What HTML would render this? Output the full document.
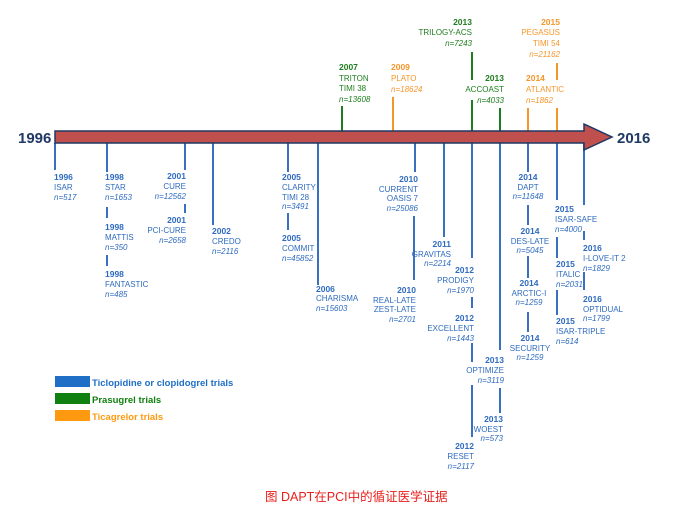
<!DOCTYPE html>
<html><head><meta charset="utf-8"><style>
html,body{margin:0;padding:0;background:#fff;width:673px;height:511px;overflow:hidden}
svg{display:block}
text{font-family:"Liberation Sans",sans-serif;font-size:8px}
.b{fill:#2e6bbf}.g{fill:#1e7d1e}.o{fill:#f5962a}
.y{font-weight:bold;font-size:8.5px}
.n{font-style:italic}
.lb{stroke:#3a70c0;stroke-width:2}.lg{stroke:#1e7d1e;stroke-width:2}.lo{stroke:#f5962a;stroke-width:2}
</style></head><body>
<svg width="673" height="511" viewBox="0 0 673 511" xmlns="http://www.w3.org/2000/svg">
<!-- blue lines -->
<g class="lb">
<line x1="55" y1="143" x2="55" y2="170"/>
<line x1="107" y1="143" x2="107" y2="172"/><line x1="107" y1="207" x2="107" y2="218"/><line x1="107" y1="255" x2="107" y2="266"/>
<line x1="185" y1="143" x2="185" y2="170"/><line x1="185" y1="204" x2="185" y2="213"/>
<line x1="213" y1="143" x2="213" y2="225"/>
<line x1="288" y1="143" x2="288" y2="172"/><line x1="288" y1="213" x2="288" y2="230"/>
<line x1="318" y1="143" x2="318" y2="285"/>
<line x1="415" y1="143" x2="415" y2="172"/><line x1="414" y1="216" x2="414" y2="280"/>
<line x1="444" y1="143" x2="444" y2="237"/>
<line x1="472" y1="143" x2="472" y2="258"/><line x1="472" y1="297" x2="472" y2="308"/><line x1="472" y1="343" x2="472" y2="362"/><line x1="472" y1="385" x2="472" y2="437"/>
<line x1="500" y1="143" x2="500" y2="350"/><line x1="500" y1="388" x2="500" y2="413"/>
<line x1="528" y1="143" x2="528" y2="172"/><line x1="528" y1="205" x2="528" y2="225"/><line x1="528" y1="256" x2="528" y2="278"/><line x1="528" y1="312" x2="528" y2="332"/>
<line x1="557" y1="143" x2="557" y2="200"/><line x1="557" y1="237" x2="557" y2="258"/><line x1="557" y1="290" x2="557" y2="315"/>
<line x1="584" y1="143" x2="584" y2="205"/><line x1="584" y1="231" x2="584" y2="240"/><line x1="584" y1="272" x2="584" y2="290"/>
</g>
<g class="lg">
<line x1="342" y1="106" x2="342" y2="131"/>
<line x1="472" y1="52" x2="472" y2="80"/><line x1="472" y1="100" x2="472" y2="131"/>
<line x1="500" y1="108" x2="500" y2="131"/>
</g>
<g class="lo">
<line x1="393" y1="97" x2="393" y2="131"/>
<line x1="528" y1="108" x2="528" y2="131"/>
<line x1="557" y1="63" x2="557" y2="80"/><line x1="557" y1="108" x2="557" y2="131"/>
</g>
<!-- arrow -->
<polygon points="55,131 584,131 584,124 612,137 584,150 584,143 55,143" fill="#c0504d" stroke="#1f3864" stroke-width="1.5"/>
<text x="18" y="143" style="font-size:15px;font-weight:bold;fill:#1f3864">1996</text>
<text x="617" y="143" style="font-size:15px;font-weight:bold;fill:#1f3864">2016</text>

<!-- blue texts -->
<g class="b">
<text class="y" x="54" y="180">1996</text><text x="54" y="190">ISAR</text><text class="n" x="54" y="200">n=517</text>
<text class="y" x="105" y="180">1998</text><text x="105" y="190">STAR</text><text class="n" x="105" y="200">n=1653</text>
<text class="y" x="105" y="230">1998</text><text x="105" y="240">MATTIS</text><text class="n" x="105" y="250">n=350</text>
<text class="y" x="105" y="277">1998</text><text x="105" y="287">FANTASTIC</text><text class="n" x="105" y="297">n=485</text>
<g text-anchor="end">
<text class="y" x="186" y="179">2001</text><text x="186" y="189">CURE</text><text class="n" x="186" y="199">n=12562</text>
<text class="y" x="186" y="223">2001</text><text x="186" y="233">PCI-CURE</text><text class="n" x="186" y="243">n=2658</text>
</g>
<text class="y" x="212" y="234">2002</text><text x="212" y="244">CREDO</text><text class="n" x="212" y="254">n=2116</text>
<text class="y" x="282" y="180">2005</text><text x="282" y="190">CLARITY</text><text x="282" y="200">TIMI 28</text><text class="n" x="282" y="209">n=3491</text>
<text class="y" x="282" y="241">2005</text><text x="282" y="251">COMMIT</text><text class="n" x="282" y="261">n=45852</text>
<text class="y" x="316" y="292">2006</text><text x="316" y="301">CHARISMA</text><text class="n" x="316" y="311">n=15603</text>
<g text-anchor="end">
<text class="y" x="418" y="182">2010</text><text x="418" y="192">CURRENT</text><text x="418" y="201">OASIS 7</text><text class="n" x="418" y="211">n=25086</text>
<text class="y" x="416" y="293">2010</text><text x="416" y="303">REAL-LATE</text><text x="416" y="312">ZEST-LATE</text><text class="n" x="416" y="322">n=2701</text>
<text class="y" x="451" y="247">2011</text><text x="451" y="257">GRAVITAS</text><text class="n" x="451" y="266">n=2214</text>
<text class="y" x="474" y="273">2012</text><text x="474" y="283">PRODIGY</text><text class="n" x="474" y="293">n=1970</text>
<text class="y" x="474" y="321">2012</text><text x="474" y="331">EXCELLENT</text><text class="n" x="474" y="341">n=1443</text>
<text class="y" x="474" y="449">2012</text><text x="474" y="459">RESET</text><text class="n" x="474" y="469">n=2117</text>
<text class="y" x="504" y="363">2013</text><text x="504" y="373">OPTIMIZE</text><text class="n" x="504" y="383">n=3119</text>
<text class="y" x="503" y="422">2013</text><text x="503" y="432">WOEST</text><text class="n" x="503" y="441">n=573</text>
</g>
<g text-anchor="middle">
<text class="y" x="528" y="180">2014</text><text x="528" y="190">DAPT</text><text class="n" x="528" y="199">n=11648</text>
<text class="y" x="530" y="234">2014</text><text x="530" y="244">DES-LATE</text><text class="n" x="530" y="253">n=5045</text>
<text class="y" x="529" y="286">2014</text><text x="529" y="296">ARCTIC-I</text><text class="n" x="529" y="305">n=1259</text>
<text class="y" x="530" y="341">2014</text><text x="530" y="351">SECURITY</text><text class="n" x="530" y="360">n=1259</text>
</g>
<text class="y" x="555" y="212">2015</text><text x="555" y="222">ISAR-SAFE</text><text class="n" x="555" y="232">n=4000</text>
<text class="y" x="556" y="267">2015</text><text x="556" y="277">ITALIC</text><text class="n" x="556" y="287">n=2031</text>
<text class="y" x="556" y="324">2015</text><text x="556" y="334">ISAR-TRIPLE</text><text class="n" x="556" y="344">n=614</text>
<text class="y" x="583" y="251">2016</text><text x="583" y="261">I-LOVE-IT 2</text><text class="n" x="583" y="271">n=1829</text>
<text class="y" x="583" y="302">2016</text><text x="583" y="312">OPTIDUAL</text><text class="n" x="583" y="321">n=1799</text>
</g>
<!-- green -->
<g class="g">
<text class="y" x="339" y="70">2007</text><text x="339" y="81">TRITON</text><text x="339" y="91">TIMI 38</text><text class="n" x="339" y="102">n=13608</text>
<g text-anchor="end">
<text class="y" x="472" y="25">2013</text><text x="472" y="35">TRILOGY-ACS</text><text class="n" x="472" y="46">n=7243</text>
<text class="y" x="504" y="81">2013</text><text x="504" y="92">ACCOAST</text><text class="n" x="504" y="103">n=4033</text>
</g>
</g>
<!-- orange -->
<g class="o">
<text class="y" x="391" y="70">2009</text><text x="391" y="81">PLATO</text><text class="n" x="391" y="92">n=18624</text>
<text class="y" x="526" y="81">2014</text><text x="526" y="92">ATLANTIC</text><text class="n" x="526" y="103">n=1862</text>
<g text-anchor="end">
<text class="y" x="560" y="25">2015</text><text x="560" y="35">PEGASUS</text><text x="560" y="46">TIMI 54</text><text class="n" x="560" y="57">n=21162</text>
</g>
</g>
<!-- legend -->
<rect x="55" y="376" width="35" height="11" fill="#1f6fc6"/>
<rect x="55" y="393" width="35" height="11" fill="#108010"/>
<rect x="55" y="410" width="35" height="11" fill="#ff9a10"/>
<text x="92" y="386" style="font-size:9.5px;font-weight:bold;fill:#1f6fc6">Ticlopidine or clopidogrel trials</text>
<text x="92" y="403" style="font-size:9.5px;font-weight:bold;fill:#108010">Prasugrel trials</text>
<text x="92" y="420" style="font-size:9.5px;font-weight:bold;fill:#ff9a10">Ticagrelor trials</text>
<text x="265" y="501" style='font-family:"Liberation Sans","Noto Sans CJK SC",sans-serif;font-size:12.5px;fill:#e8201c'>图 DAPT在PCI中的循证医学证据</text>
</svg>
</body></html>
